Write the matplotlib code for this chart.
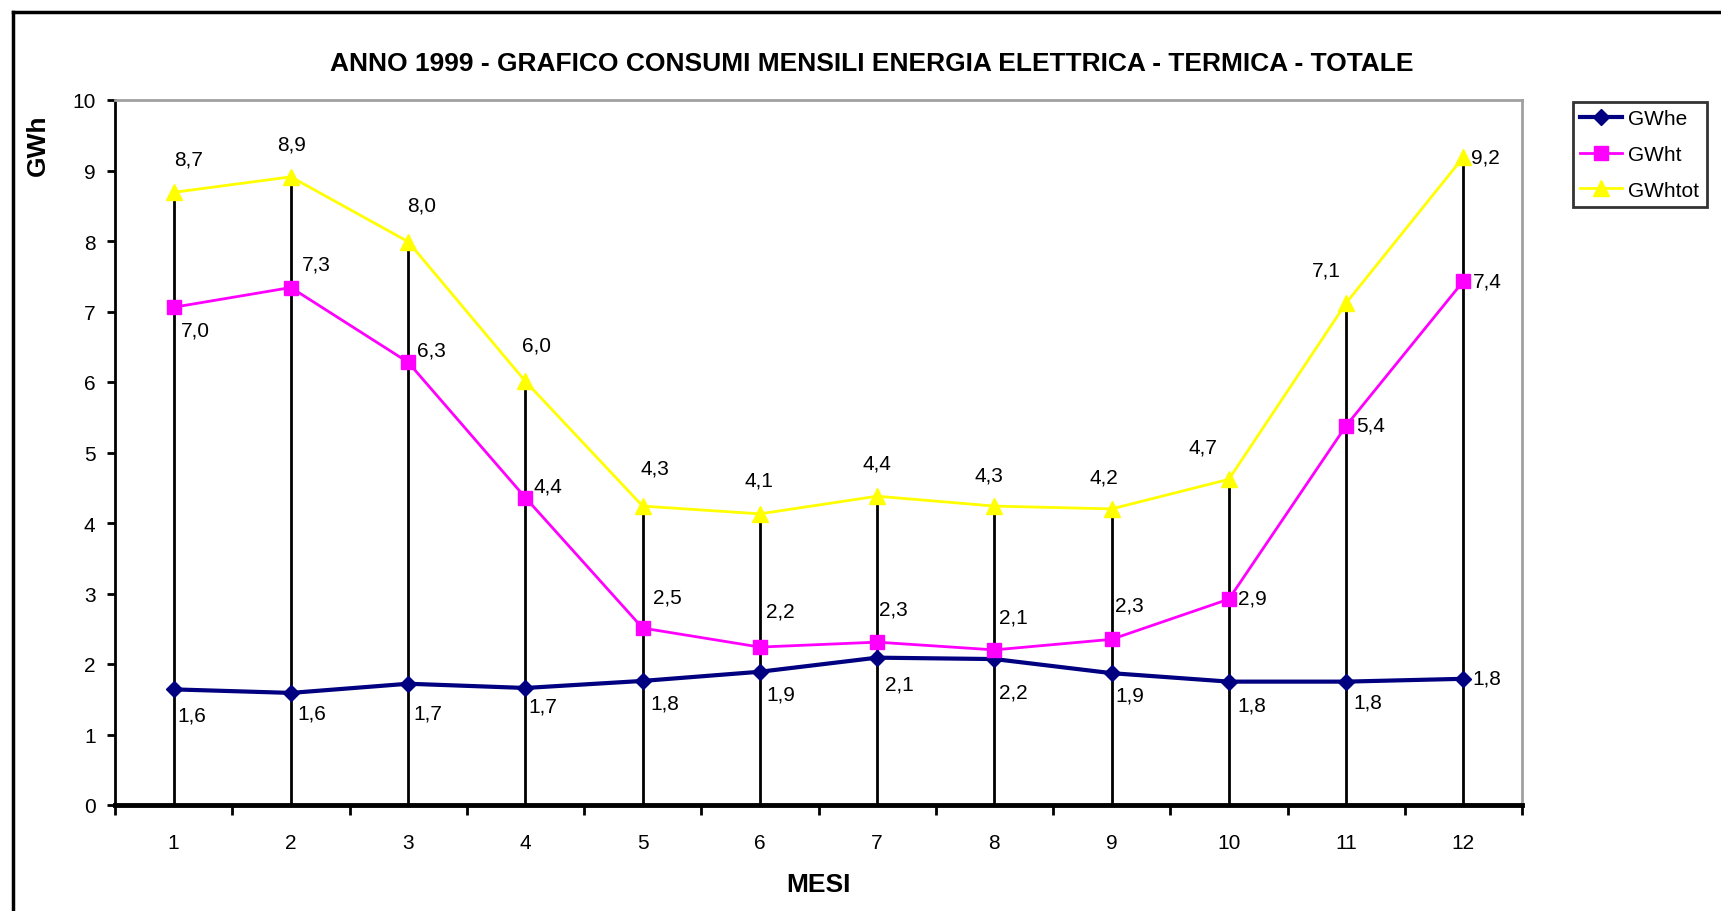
import matplotlib
matplotlib.use("Agg")
import matplotlib.pyplot as plt
from matplotlib import font_manager
from matplotlib.lines import Line2D
import numpy as np

# ---------------- data ----------------
months = [1, 2, 3, 4, 5, 6, 7, 8, 9, 10, 11, 12]
gwhe = [1.64, 1.59, 1.72, 1.66, 1.76, 1.89, 2.09, 2.07, 1.87, 1.75, 1.75, 1.79]
gwht = [7.06, 7.34, 6.28, 4.36, 2.51, 2.24, 2.31, 2.20, 2.35, 2.92, 5.38, 7.43]
gwhtot = [8.69, 8.91, 7.99, 6.01, 4.24, 4.13, 4.38, 4.24, 4.20, 4.62, 7.12, 9.19]
lab_he = ["1,6", "1,6", "1,7", "1,7", "1,8", "1,9", "2,1", "2,2", "1,9", "1,8", "1,8", "1,8"]
lab_ht = ["7,0", "7,3", "6,3", "4,4", "2,5", "2,2", "2,3", "2,1", "2,3", "2,9", "5,4", "7,4"]
lab_tot = ["8,7", "8,9", "8,0", "6,0", "4,3", "4,1", "4,4", "4,3", "4,2", "4,7", "7,1", "9,2"]
yticks = [0, 1, 2, 3, 4, 5, 6, 7, 8, 9, 10]

title = "ANNO 1999 - GRAFICO CONSUMI MENSILI ENERGIA ELETTRICA - TERMICA - TOTALE"

# label offsets (shrunk-reference pixels, x right / y down)
off_tot = [(14, -30), (1, -30), (12, -33), (10, -33), (11, -35), (-1, -31), (0, -30),
           (-5, -28), (-7, -29), (-24, -29), (-18, -30), (20, 0)]
off_ht = [(20, 21), (23, -21), (21, -11), (21, -11), (23, -28), (19, -33), (15, -30),
          (17, -30), (16, -31), (21, -1), (22, -1), (22, 0)]
off_he = [(17, 23), (19, 18), (18, 27), (16, 16), (20, 20), (19, 20), (20, 24),
          (17, 30), (17, 20), (21, 21), (20, 19), (21, -1)]

# ---------------- fonts ----------------
names = {f.name for f in font_manager.fontManager.ttflist}
narrow = "Liberation Sans Narrow" if "Liberation Sans Narrow" in names else "Liberation Sans"
plt.rcParams['font.family'] = [narrow, 'DejaVu Sans']

W, H = 1721, 912
fig = plt.figure(figsize=(W / 100, H / 100), dpi=100)
fig.patch.set_facecolor("white")

L, R, T, B = 115, 1522, 101, 806
ax = fig.add_axes([L / W, 1 - B / H, (R - L) / W, (B - T) / H])

# drop lines
ax.vlines(months, 0, gwhtot, colors="black", linewidth=2, zorder=1)

ax.plot(months, gwhe, color="#000080", linewidth=3, marker="D", markersize=8,
        markerfacecolor="#000080", markeredgecolor="#000080", label="GWhe", zorder=3)
ax.plot(months, gwht, color="#FF00FF", linewidth=2, marker="s", markersize=10,
        markerfacecolor="#FF00FF", markeredgecolor="#FF00FF", label="GWht", zorder=3)
ax.plot(months, gwhtot, color="#FFFF00", linewidth=2, marker="^", markersize=12,
        markerfacecolor="#FFFF00", markeredgecolor="#FFFF00", label="GWhtot", zorder=3)

sc = 1721 / 1568
fs_lab = 15
for vals, labs, offs in ((gwhtot, lab_tot, off_tot), (gwht, lab_ht, off_ht), (gwhe, lab_he, off_he)):
    for m, v, t, (dx, dy) in zip(months, vals, labs, offs):
        ax.annotate(t, (m, v), xytext=(dx * sc, -dy * sc), textcoords="offset pixels",
                    ha="center", va="center", fontsize=fs_lab, color="black", zorder=4)

ax.set_xlim(0.5, 12.5)
ax.set_ylim(0, 10)
ax.set_yticks(yticks)
ax.set_yticklabels([str(v) for v in yticks], fontsize=fs_lab)
ax.set_xticks(months)
ax.set_xticklabels([str(m) for m in months], fontsize=fs_lab)
ax.set_xticks(np.arange(0.5, 13, 1.0), minor=True)
ax.tick_params(axis="x", which="major", length=0, pad=20)
ax.tick_params(axis="x", which="minor", length=7, width=2, direction="out", color="black")
ax.tick_params(axis="y", which="major", length=6, width=2, direction="out", pad=8)

for s in ("top", "right"):
    ax.spines[s].set_color("#a0a0a0")
    ax.spines[s].set_linewidth(2)
ax.spines["left"].set_color("black")
ax.spines["left"].set_linewidth(2)
ax.spines["bottom"].set_color("black")
ax.spines["bottom"].set_linewidth(3.5)

# texts
fig.text(872 / W, 1 - 64 / H, title, ha="center", va="center", fontsize=19, fontweight="bold")
fig.text(38 / W, 1 - 145 / H, "GWh", ha="center", va="center", rotation=90, fontsize=19, fontweight="bold")
fig.text(818 / W, 1 - 885 / H, "MESI", ha="center", va="center", fontsize=19, fontweight="bold")

leg = fig.legend(loc="upper left", bbox_to_anchor=(1573 / W, 1 - 103 / H), fontsize=15,
                 frameon=True, fancybox=False, edgecolor="black", handlelength=2.0,
                 borderpad=0.35, labelspacing=0.8, handletextpad=0.3, borderaxespad=0)
leg.get_frame().set_linewidth(2)

# outer chart border (left and top only visible)
fig.add_artist(Line2D([13 / W, 13 / W], [0, 1 - 13 / H], color="black", linewidth=2.5,
                      transform=fig.transFigure))
fig.add_artist(Line2D([13 / W, 1], [1 - 13 / H, 1 - 13 / H], color="black", linewidth=2.5,
                      transform=fig.transFigure))

fig.savefig("out.png", dpi=100, facecolor="white")
